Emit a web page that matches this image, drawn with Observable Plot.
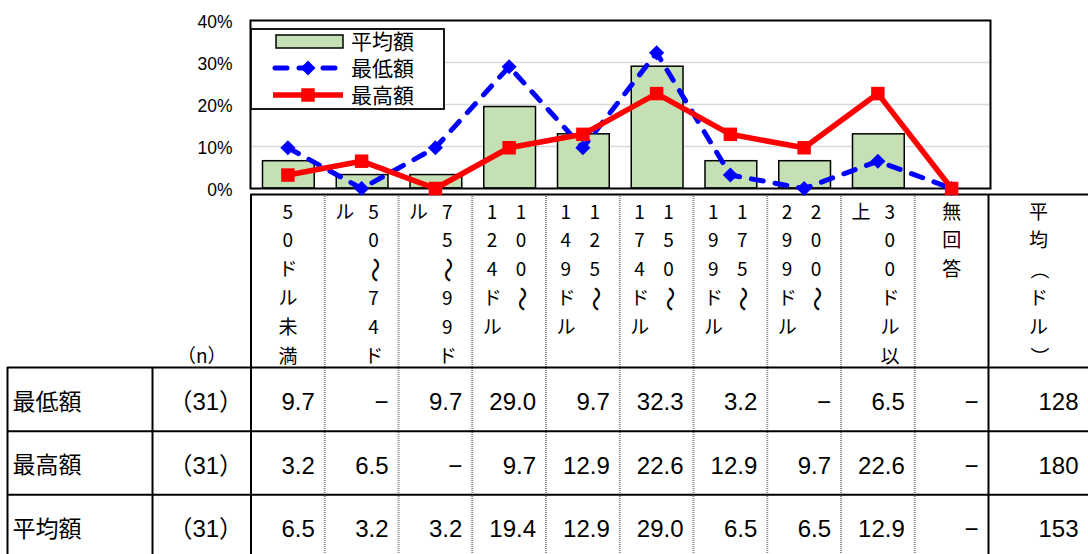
<!DOCTYPE html>
<html><head><meta charset="utf-8">
<script src="https://cdn.jsdelivr.net/npm/d3@7"></script>
<script src="https://cdn.jsdelivr.net/npm/@observablehq/plot@0.6"></script>
<style>
html,body{margin:0;padding:0;background:#fff;overflow:hidden;}
#wrap{position:relative;width:1088px;height:554px;overflow:hidden;background:#fff;}
#wrap > svg{display:block;}
#chartHolder{position:absolute;left:0;top:0;}
#tableHolder{position:absolute;left:0;top:192px;}
#legend{position:absolute;left:250px;top:26px;overflow:visible;}
</style></head><body>
<div id="wrap"><div id="tableHolder"></div><div id="chartHolder"></div></div>
<script>
// ---- data ----
const categories = ["50ドル未満","50～74ドル","75～99ドル","100～124ドル","125～149ドル","150～174ドル","175～199ドル","200～299ドル","300ドル以上","無回答"];
// vertical header text; columns (right → left) separated by "|"
const headerLabels = ["50ドル未満","50～74ド|ル","75～99ド|ル","100～|124ドル","125～|149ドル","150～|174ドル","175～|199ドル","200～|299ドル","300ドル以|上","無回答"];
const seriesNames = ["最低額","最高額","平均額"];
const minValues = [9.7,0,9.7,29.0,9.7,32.3,3.2,0,6.5,0];
const maxValues = [3.2,6.5,0,9.7,12.9,22.6,12.9,9.7,22.6,0];
const avgValues = [6.5,3.2,3.2,19.4,12.9,29.0,6.5,6.5,12.9,0];
const nValues = [31,31,31];
const meanDollars = [128,180,153];
const meanHeader = "平均（ドル）";
const nHeader = "（n）";
const yTicks = [0,10,20,30,40];

const CJK = "'Noto Sans CJK JP', sans-serif";
const NUM = "'Liberation Sans', 'Noto Sans CJK JP', sans-serif";
const nCat = categories.length;

// shared column scale: label col, n col, categories, mean col
const xScale = {type:"linear", domain:[0,1,2,2+nCat,3+nCat], range:[7,152,250.5,988,1088]};

const rows = categories.map((c,i)=>({c, i, min:minValues[i], max:maxValues[i], avg:avgValues[i]}));
const cx = d => d.i + 2.5;

const chart = Plot.plot({
  width:1088, height:192, marginTop:20, marginBottom:4, marginLeft:250, marginRight:98,
  x:{...xScale, axis:null},
  y:{domain:[0,40], axis:null},
  style:{fontFamily:NUM, background:"none", color:"black", overflow:"visible"},
  marks:[
    Plot.ruleY([10,20,30], {stroke:"#d9d9d9", strokeWidth:1.5}),
    Plot.rectY(rows.filter(d=>d.avg>0), {x1:d=>d.i+2, x2:d=>d.i+3, y:"avg", insetLeft:12, insetRight:10, fill:"#c5e0b4", stroke:"black", strokeWidth:1.5}),
    Plot.frame({stroke:"black", strokeWidth:2}),
    Plot.line(rows, {x:cx, y:"min", stroke:"#0000ff", strokeWidth:5, strokeDasharray:"12,12", strokeLinecap:"round", strokeLinejoin:"round"}),
    Plot.dot(rows, {x:cx, y:"min", symbol:"diamond2", r:6.8, fill:"#0000ff"}),
    Plot.line(rows, {x:cx, y:"max", stroke:"#ff0000", strokeWidth:5.5, strokeLinejoin:"round"}),
    Plot.dot(rows, {x:cx, y:"max", symbol:"square", r:7.6, fill:"#ff0000"}),
    Plot.axisY({ticks:yTicks, tickFormat:d=>d+"%", tickSize:0, tickPadding:18, fontSize:17.5, dy:2, label:null, fill:"#000"})
  ]
});

// header characters
const headerChars = [];
headerLabels.forEach((lab,i)=>{
  const cols = lab.split("|");
  cols.forEach((col,ci)=>{
    [...col].forEach((ch,k)=>headerChars.push({i, ch, k, pos: cols.length===1 ? "single" : (ci===0 ? "right" : "left")}));
  });
});
const meanChars = [...meanHeader].map((ch,k)=>({ch,k}));
const rotCh = d => "～（）".includes(d.ch) ? 90 : 0;
const sizeCh = d => d.ch === "～" ? 25 : 19;
const charOpts = {x:d=>d.i+2.5, y:d=>d.k+0.5, text:"ch", rotate:rotCh, fontSize:sizeCh, fontFamily:CJK, dy:3.5, fill:"#000"};

const cells = [];
[minValues, maxValues, avgValues].forEach((arr,r)=>arr.forEach((v,i)=>cells.push({r,i,v})));

const table = Plot.plot({
  width:1088, height:362, margin:0,
  x:{...xScale, axis:null},
  y:{type:"linear", domain:[0,6,9], range:[2,175,366], axis:null},
  style:{fontFamily:NUM, background:"none", color:"black"},
  marks:[
    Plot.ruleX(d3.range(3, 2+nCat), {y1:0, y2:9, stroke:"#8a8a8a", strokeWidth:2, strokeDasharray:"1,1"}),
    Plot.ruleX([2, 2+nCat], {y1:0, y2:9, stroke:"black", strokeWidth:2}),
    Plot.ruleX([0, 1], {y1:6, y2:9, stroke:"black", strokeWidth:2}),
    Plot.ruleY([0], {x1:2, x2:3+nCat, stroke:"black", strokeWidth:2}),
    Plot.ruleY([6,7,8], {x1:0, x2:3+nCat, stroke:"black", strokeWidth:2}),
    Plot.text(headerChars.filter(d=>d.pos==="single"), charOpts),
    Plot.text(headerChars.filter(d=>d.pos==="right"), {...charOpts, dx:12}),
    Plot.text(headerChars.filter(d=>d.pos==="left"), {...charOpts, dx:-17}),
    Plot.text(meanChars, {...charOpts, x:()=>3.5+nCat-1}),
    Plot.text([nHeader], {x:1.5, y:5.5, text:d=>d, fontSize:19, fontFamily:CJK, dy:3.5, fill:"#000"}),
    Plot.text(seriesNames, {x:0, y:(d,i)=>6.5+i, text:d=>d, textAnchor:"start", dx:5, dy:3, fontSize:23, fontFamily:CJK, fill:"#000"}),
    Plot.text(nValues, {x:1.5, y:(d,i)=>6.5+i, text:d=>`（${d}）`, dx:4, dy:3, fontSize:24, fontFamily:NUM, fill:"#000"}),
    Plot.text(cells, {x:d=>d.i+3, y:d=>d.r+6.5, text:d=>d.v===0 ? "−" : d.v.toFixed(1), textAnchor:"end", dx:-10, dy:3, fontSize:24, fontFamily:NUM, fill:"#000"}),
    Plot.text(meanDollars, {x:3+nCat, y:(d,i)=>6.5+i, text:d=>String(d), textAnchor:"end", dx:-10, dy:3, fontSize:24, fontFamily:NUM, fill:"#000"})
  ]
});

document.getElementById("chartHolder").appendChild(chart);
document.getElementById("tableHolder").appendChild(table);

// legend (inside plot, top-left)
const wrap = document.getElementById("wrap");
const lg = d3.select(wrap).append("svg").attr("id","legend").attr("width",196).attr("height",86);
lg.append("rect").attr("x",1).attr("y",3).attr("width",193).attr("height",80).attr("fill","white").attr("stroke","black").attr("stroke-width",1.8);
const legendItems = [seriesNames[2], seriesNames[0], seriesNames[1]];
const ly = [15, 42, 69];
lg.append("rect").attr("x",26).attr("y",9).attr("width",67).attr("height",13).attr("fill","#c5e0b4").attr("stroke","black").attr("stroke-width",1.5);
lg.append("line").attr("x1",25).attr("x2",92).attr("y1",ly[1]).attr("y2",ly[1]).attr("stroke","#0000ff").attr("stroke-width",5).attr("stroke-dasharray","12,12").attr("stroke-linecap","round");
lg.append("path").attr("d",d3.symbol(d3.symbolDiamond2, Math.PI*6.8*6.8)()).attr("transform",`translate(58,${ly[1]})`).attr("fill","#0000ff");
lg.append("line").attr("x1",23).attr("x2",93).attr("y1",ly[2]).attr("y2",ly[2]).attr("stroke","#ff0000").attr("stroke-width",5.5);
lg.append("path").attr("d",d3.symbol(d3.symbolSquare, Math.PI*7.6*7.6)()).attr("transform",`translate(58,${ly[2]})`).attr("fill","#ff0000");
lg.selectAll("text.l").data(legendItems).join("text").attr("class","l")
  .attr("x",101).attr("y",(d,i)=>ly[i]).attr("dy","0.36em")
  .attr("font-family",CJK).attr("font-size",21).attr("fill","#000").text(d=>d);
</script>
</body></html>
